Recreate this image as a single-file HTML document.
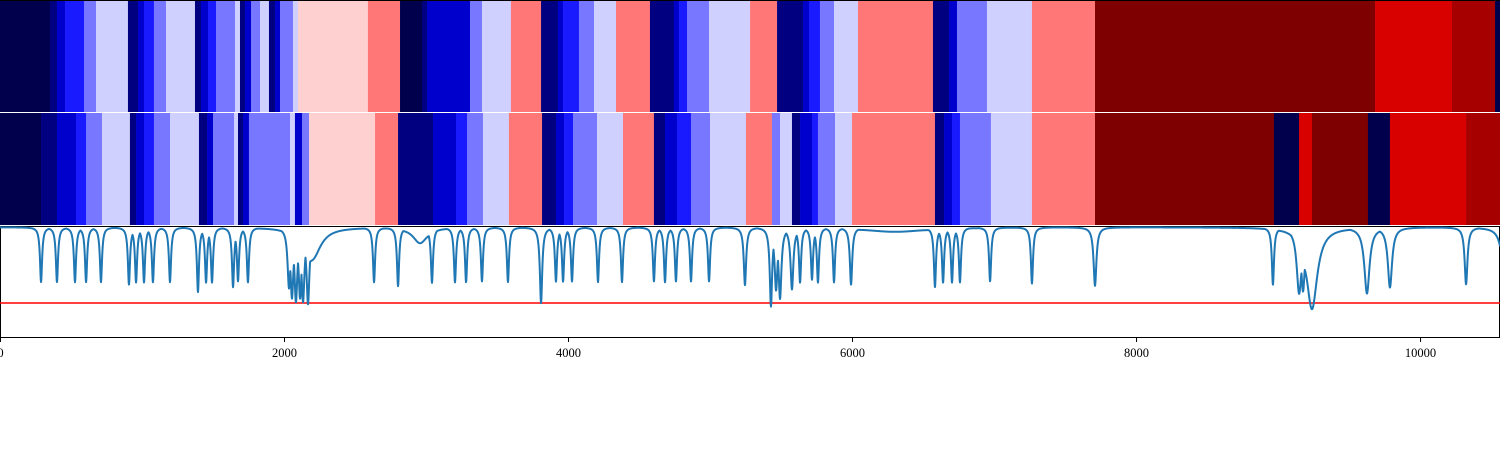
<!DOCTYPE html>
<html><head><meta charset="utf-8"><style>
html,body{margin:0;padding:0;background:#fff;width:1500px;height:450px;overflow:hidden}
svg{display:block}
</style></head><body>
<svg id="chart" width="1500" height="450" xmlns="http://www.w3.org/2000/svg"></svg>
<script>
// ---- data ----
const X_MAX = 10563;
const xTicks = [0, 2000, 4000, 6000, 8000, 10000];
const levelColors = ["#00004c","#000080","#0000cc","#1a1aff","#7777ff","#d0d0ff","#ffd0d0","#ff7777","#d90000","#a60000","#7f0000"];
const row1Starts = [0,352,401,458,592,676,901,972,1014,1084,1169,1373,1415,1465,1521,1655,1690,1725,1768,1831,1894,1937,1972,2063,2099,2591,2817,2972,3007,3310,3394,3598,3810,3929,3965,4077,4183,4338,4577,4746,4782,4838,4993,5282,5472,5655,5697,5774,5873,6042,6570,6683,6739,6950,7267,7711,9683,10225,10528];
const row1Levels = [0,1,2,3,4,5,1,2,3,4,5,1,2,3,4,5,1,2,4,5,1,2,4,5,6,7,0,1,2,4,5,7,1,2,3,4,5,7,1,2,3,4,5,7,1,2,3,4,5,7,1,2,4,5,7,10,8,9,0];
const row2Starts = [0,289,401,535,606,718,915,958,1014,1084,1197,1401,1458,1500,1648,1676,1711,1753,2042,2077,2127,2176,2641,2803,3049,3211,3289,3401,3584,3817,3915,3972,4035,4204,4387,4605,4683,4767,4866,5000,5253,5436,5493,5577,5634,5718,5760,5880,6000,6584,6648,6704,6760,6978,7267,7711,8971,9148,9239,9633,9788,10324];
const row2Levels = [0,1,2,3,4,5,1,2,3,4,5,1,2,4,5,1,2,4,5,2,4,6,7,1,2,3,4,5,7,1,2,3,4,5,7,1,2,3,4,5,7,4,5,1,2,3,4,5,7,1,2,3,4,5,7,10,0,8,10,0,8,9];
const dipCenters = [289,401,528,606,711,908,958,1014,1077,1197,1394,1451,1493,1641,1676,1746,2035,2056,2084,2113,2134,2169,2200,2634,2803,2958,3042,3204,3282,3394,3577,3810,3915,3965,4028,4211,4380,4605,4683,4760,4866,4993,5246,5429,5465,5493,5577,5634,5718,5760,5873,5993,6303,6584,6641,6704,6760,6972,7267,7711,8964,9148,9176,9239,9626,9788,10324,10600];
const dipMins    = [0.28,0.28,0.28,0.28,0.28,0.25,0.28,0.28,0.28,0.28,0.15,0.28,0.28,0.22,0.3,0.28,0.25,0.13,0.08,0.15,0.1,0.06,0.6,0.28,0.23,0.8,0.28,0.28,0.28,0.29,0.28,0.0,0.29,0.29,0.29,0.28,0.28,0.29,0.28,0.29,0.29,0.29,0.24,-0.03,0.2,0.08,0.19,0.28,0.32,0.28,0.28,0.25,0.95,0.22,0.28,0.28,0.28,0.29,0.26,0.23,0.25,0.18,0.25,-0.07,0.13,0.21,0.25,0.2];
const dipWidths  = [9,9,9,9,9,9,9,9,9,9,9,9,9,9,9,9,12,12,12,12,12,12,70,9,9,60,9,9,9,9,9,10,9,9,9,9,9,9,9,9,9,9,10,10,12,12,12,9,9,9,9,10,260,9,9,9,9,9,9,12,9,20,15,45,22,18,12,25];
const threshold = 0;

// ---- layout ----
const svg = document.getElementById('chart');
const NS = 'http://www.w3.org/2000/svg';
const L = 0, R = 1500;
const xs = v => L + (v / X_MAX) * (R - L);
const P3T = 226, P3B = 338;
const ys = v => 303 - v * 75;
function mk(tag, attrs){ const e=document.createElementNS(NS,tag); for(const k in attrs) e.setAttribute(k,attrs[k]); svg.appendChild(e); return e; }

function drawRow(starts, levels, top, bottom, name){
  for(let i=0;i<starts.length;i++){
    const x0 = xs(starts[i]);
    const x1 = xs(i+1<starts.length ? starts[i+1] : X_MAX);
    const r = mk('rect',{x:x0,y:top,width:Math.max(0,x1-x0)+0.3,height:bottom-top,fill:levelColors[levels[i]]});
    
    
  }
}
drawRow(row1Starts,row1Levels,1,112,'heatmap-row-1');
drawRow(row2Starts,row2Levels,113,225,'heatmap-row-2');
const topLine = mk('line',{x1:0,x2:1500,y1:0.5,y2:0.5,stroke:'#000','stroke-width':1});



// line panel
const bg = mk('rect',{x:0.5,y:P3T+0.5,width:1499,height:P3B-P3T-1,fill:'#fff',stroke:'#000','stroke-width':1});


const th = mk('line',{x1:0,x2:1500,y1:ys(threshold),y2:ys(threshold),stroke:'#ff0000','stroke-width':1.5});



function val(x){
  let mx = 0, sum = 0;
  for(let i=0;i<dipCenters.length;i++){
    const w = dipWidths[i], d = x - dipCenters[i];
    const c = (1.01 - dipMins[i]) * w*w/(d*d + w*w);
    if(c > mx) mx = c;
    sum += c;
  }
  return 1.01 - mx - 0.15*(sum - mx);
}
let pts=[];
for(let i=0;i<=6000;i++){
  const x = X_MAX*i/6000;
  const y = Math.max(P3T+1, Math.min(P3B-1, ys(val(x))));
  pts.push(xs(x).toFixed(2)+','+y.toFixed(2));
}
const pl = mk('polyline',{points:pts.join(' '),fill:'none',stroke:'#1f77b4','stroke-width':2,'stroke-linejoin':'round'});



// x axis
xTicks.forEach(t=>{
  const x = Math.min(xs(t),1499.5)+0.5;
  const tk = mk('line',{x1:x,x2:x,y1:P3B,y2:P3B+4,stroke:'#000','stroke-width':1});
  
  
  const tx = mk('text',{x:x,y:P3B+19,'text-anchor':'middle','font-family':'"Liberation Serif", serif','font-size':'12.5px',fill:'#000'});
  tx.textContent = String(t);
  
  
});
</script>
</body></html>
